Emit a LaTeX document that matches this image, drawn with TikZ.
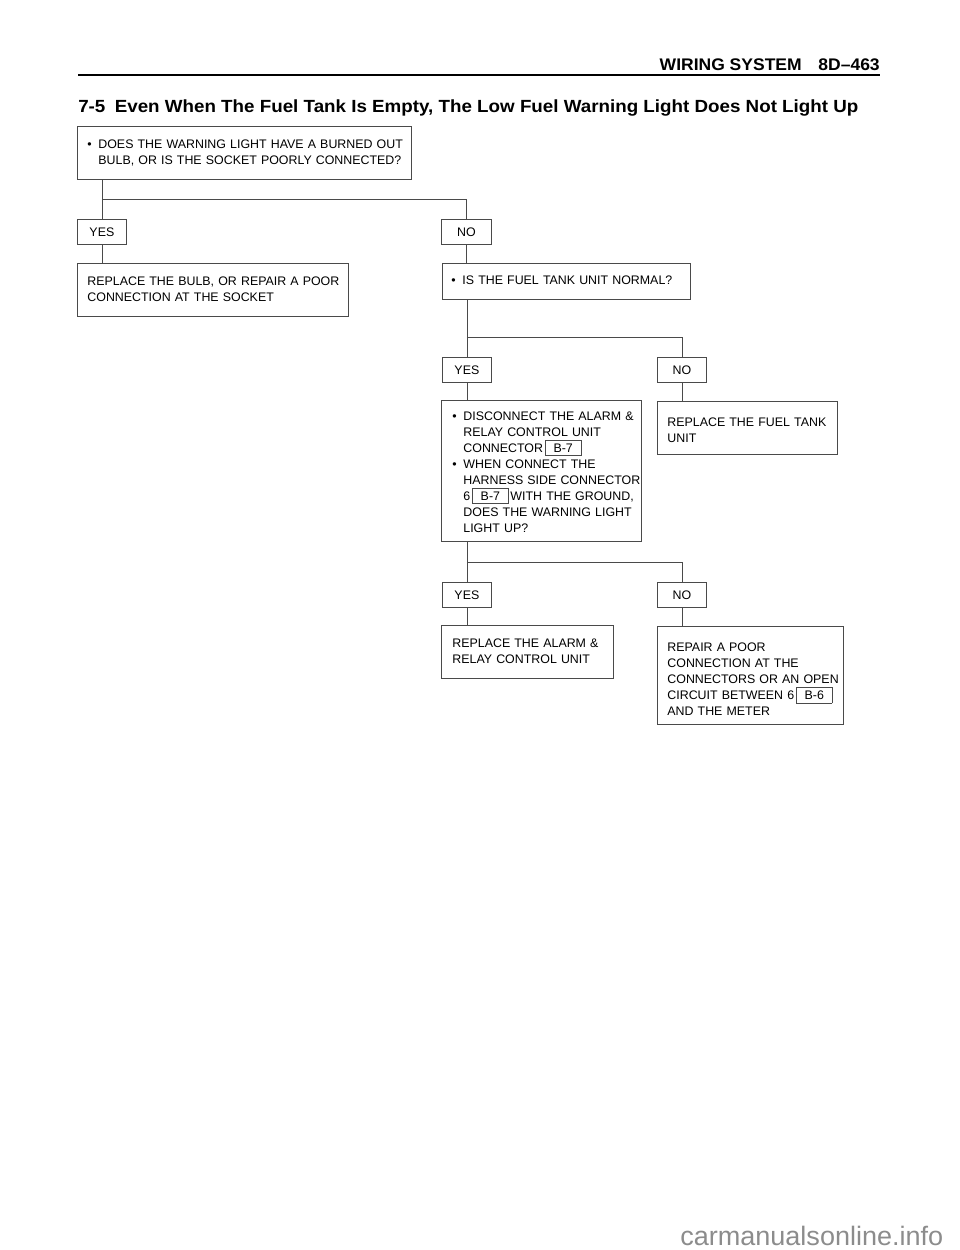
\documentclass[tikz,border=0pt]{standalone}
\usepackage{fontspec}
\usepackage{graphicx}
\setmainfont{Liberation Sans}
\newfontfamily\headfont{Liberation Sans}
\newdimen\px \px=0.75pt
\definecolor{linecol}{HTML}{4A4A4A}
\definecolor{markgray}{HTML}{8C8C8C}
\newcommand\cbox[1]{\hspace{2\px}\smash{\fboxsep=2.4pt\fboxrule=0.55pt\fcolorbox{linecol}{white}{\kern4.5\px#1\kern4.5\px}}\hspace{1\px}}
\newcommand\lines[1]{\begin{tabular}{@{}l@{}}#1\end{tabular}}
\newcommand\dropby[2]{\raisebox{-#1\px}[\height][\depth]{#2}}
\newenvironment{bullets}{\begin{tabular}{@{}p{11\px}@{}l@{}}}{\end{tabular}}
\tikzset{
  box/.style={draw=linecol, line width=0.6pt, rectangle, anchor=north west,
    inner xsep=10\px, inner ysep=0pt, align=left,
    font=\fontsize{9.3}{12}\selectfont},
  yn/.style={draw=linecol, line width=0.6pt, rectangle, anchor=north west,
    inner sep=0pt, minimum width=49\px, minimum height=25\px,
    font=\fontsize{9.3}{12}\selectfont},
  conn/.style={draw=linecol, line width=0.6pt},
}
\begin{document}
\begin{tikzpicture}[x=1\px, y=-1\px]
\useasboundingbox (0,0) rectangle (960,1250);
% header
\node[anchor=base east, inner sep=0pt] (hdr) at (880,70)
  {\resizebox{220\px}{\height}{\headfont\bfseries\fontsize{12.6}{14}\selectfont WIRING SYSTEM\hspace{12pt}8D–463}};
\coordinate (rl) at (78,75);
\coordinate (rr) at (880,75);
\draw[line width=1.5pt] (rl) -- (rr);
\node[anchor=base west, inner sep=0pt] (title) at (78,112)
  {\resizebox{780\px}{\height}{\headfont\bfseries\fontsize{13.2}{15}\selectfont 7-5\hspace{0.5em}Even When The Fuel Tank Is Empty, The Low Fuel Warning Light Does Not Light Up}};

% boxes
\node[box, text width=314\px, minimum height=53\px] (q1) at (77,126)
  {\begin{bullets}\textbullet & DOES THE WARNING LIGHT HAVE A BURNED OUT\\ & BULB, OR IS THE SOCKET POORLY CONNECTED?\end{bullets}};
\node[yn] (yes1) at (77,219) {YES};
\node[yn, minimum width=50\px] (no1) at (441,219) {NO};
\node[box, text width=251\px, minimum height=53\px] (a1) at (77,263)
  {\lines{REPLACE THE BULB, OR REPAIR A POOR\\CONNECTION AT THE SOCKET}};
\node[box, text width=230\px, minimum height=36\px, inner xsep=9\px] (q2) at (442,263)
  {\begin{bullets}\textbullet & IS THE FUEL TANK UNIT NORMAL?\end{bullets}};
\node[yn] (yes2) at (442,357) {YES};
\node[yn] (no2) at (657,357) {NO};
\node[box, text width=178\px, minimum height=141\px, inner xsep=11\px] (q3) at (441,400)
  {\dropby{2}{\begin{bullets}\textbullet & DISCONNECT THE ALARM \&\\ & RELAY CONTROL UNIT\\ & CONNECTOR\cbox{B-7}\\
   \textbullet & WHEN CONNECT THE\\ & HARNESS SIDE CONNECTOR\\ & 6\cbox{B-7}\hspace{1\px}WITH THE GROUND,\\ & DOES THE WARNING LIGHT\\ & LIGHT UP?\end{bullets}}};
\node[box, text width=160\px, minimum height=53\px] (a2) at (657,401)
  {\dropby{3}{\lines{REPLACE THE FUEL TANK\\UNIT}}};
\node[yn] (yes3) at (442,582) {YES};
\node[yn] (no3) at (657,582) {NO};
\node[box, text width=150\px, minimum height=53\px, inner xsep=11\px] (a3) at (441,625)
  {\lines{REPLACE THE ALARM \&\\RELAY CONTROL UNIT}};
\node[box, text width=166\px, minimum height=98\px] (a4) at (657,626)
  {\dropby{5}{\lines{REPAIR A POOR\\CONNECTION AT THE\\CONNECTORS OR AN OPEN\\CIRCUIT BETWEEN 6\cbox{B-6}\\AND THE METER}}};

% junctions
\coordinate (j1) at (0,199);
\coordinate (j2) at (0,337);
\coordinate (j3) at (0,562);

% connectors
\draw[conn] (q1.south -| yes1.north) -- (yes1.north);
\draw[conn] (yes1.north |- j1) -| (no1.north);
\draw[conn] (yes1.south) -- (yes1.south |- a1.north);
\draw[conn] (no1.south) -- (no1.south |- q2.north);
\draw[conn] (q2.south -| yes2.north) -- (yes2.north);
\draw[conn] (yes2.north |- j2) -| (no2.north);
\draw[conn] (yes2.south) -- (yes2.south |- q3.north);
\draw[conn] (no2.south) -- (no2.south |- a2.north);
\draw[conn] (q3.south -| yes3.north) -- (yes3.north);
\draw[conn] (yes3.north |- j3) -| (no3.north);
\draw[conn] (yes3.south) -- (yes3.south |- a3.north);
\draw[conn] (no3.south) -- (no3.south |- a4.north);

% watermark
\node[anchor=base west, inner sep=0pt, text=markgray] (wm) at (680,1245)
  {\resizebox{263\px}{\height}{\fontsize{20}{22}\selectfont carmanualsonline.info}};
\end{tikzpicture}
\end{document}
